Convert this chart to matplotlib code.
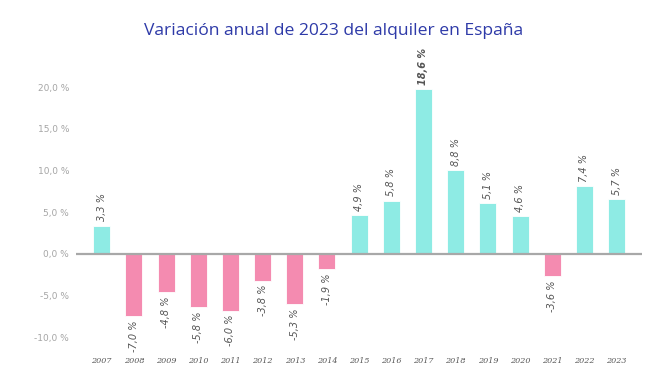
import matplotlib
matplotlib.use("Agg")
import matplotlib.pyplot as plt
from matplotlib.ticker import FuncFormatter

years = ["2007", "2008", "2009", "2010", "2011", "2012", "2013", "2014", "2015",
         "2016", "2017", "2018", "2019", "2020", "2021", "2022", "2023"]
bar_values = [3.4, -7.5, -4.6, -6.4, -6.8, -3.2, -6.0, -1.8, 4.7,
              6.4, 19.8, 10.1, 6.1, 4.5, -2.7, 8.1, 6.6]
value_labels = ["3,3 %", "-7,0 %", "-4,8 %", "-5,8 %", "-6,0 %", "-3,8 %", "-5,3 %", "-1,9 %", "4,9 %",
                "5,8 %", "18,6 %", "8,8 %", "5,1 %", "4,6 %", "-3,6 %", "7,4 %", "5,7 %"]
y_ticks = [-10, -5, 0, 5, 10, 15, 20]
title = "Variación anual de 2023 del alquiler en España"

pos_color = "#8eebe4"
neg_color = "#f48bb0"

fig = plt.figure(figsize=(6.63, 3.82), dpi=100)
ax = fig.add_axes([0.1146, 0.0953, 0.8537, 0.698])

x = list(range(len(years)))
colors = [pos_color if v >= 0 else neg_color for v in bar_values]
ax.bar(x, bar_values, width=0.53, color=colors, edgecolor="white", linewidth=0.6, zorder=2)
ax.axhline(0, color="#a8a8a8", linewidth=1.6, zorder=3)

ax.set_xlim(-0.8, 16.79)
ax.set_ylim(-11, 21)

for xi, v, lab in zip(x, bar_values, value_labels):
    bold = lab.startswith("18")
    if v >= 0:
        ax.annotate(lab, (xi, v), xytext=(0, 3), textcoords="offset points",
                    rotation=90, ha="center", va="bottom", fontsize=7,
                    style="italic", color="#555555",
                    fontweight="bold" if bold else "normal", annotation_clip=False)
    else:
        ax.annotate(lab, (xi, v), xytext=(0, -3), textcoords="offset points",
                    rotation=90, ha="center", va="top", fontsize=7,
                    style="italic", color="#555555", annotation_clip=False)

ax.set_xticks(x)
ax.set_xticklabels(years, fontsize=5.8, color="#555555", family="DejaVu Serif", style="italic")
ax.set_yticks(y_ticks)
ax.yaxis.set_major_formatter(FuncFormatter(lambda v, p: f"{v:.1f} %".replace(".", ",")))
ax.tick_params(axis="y", length=0, pad=5, labelsize=6.5, labelcolor="#a5a5a5")
ax.tick_params(axis="x", length=0, pad=8)

for s in ax.spines.values():
    s.set_visible(False)

fig.text(0.503, 0.92, title, ha="center", va="center", fontsize=12.6,
         color="#2e3aa8", family="Open Sans")

fig.savefig("out.png", dpi=100)
